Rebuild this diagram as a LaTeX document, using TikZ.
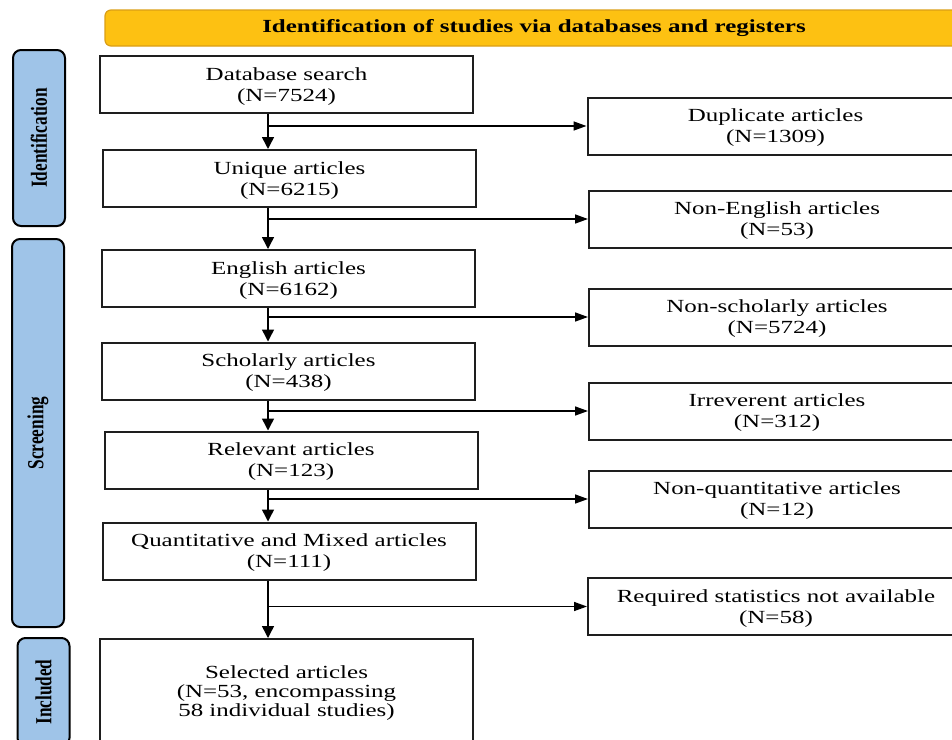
\documentclass[tikz,border=0pt]{standalone}
\usepackage{fontspec}
\setmainfont{Liberation Serif}[FakeStretch=1.35]
\newfontfamily\sidefont{Liberation Serif}[FakeStretch=0.75]
\usepackage{xcolor}
\usepackage{tikz}
\usetikzlibrary{arrows.meta}
\definecolor{bannergold}{RGB}{253,193,18}
\definecolor{bannerline}{RGB}{218,158,22}
\definecolor{phaseblue}{RGB}{159,196,232}
\definecolor{boxline}{RGB}{30,30,30}

\begin{document}
\begin{tikzpicture}[x=0.5pt, y=-0.5pt,
  box/.style={draw=boxline, line width=1pt, fill=white, align=center, inner sep=0pt, text depth=-2pt,
              minimum width=186.5pt, minimum height=28.5pt, font=\fontsize{9.25}{10.5}\selectfont},
  side/.style={box, minimum width=188pt},
  phase/.style={draw=black, line width=1pt, fill=phaseblue, rounded corners=4pt, rotate=90,
                minimum height=26pt, inner sep=0pt, font=\sidefont\fontsize{11.5}{12}\selectfont\bfseries},
  banner/.style={draw=bannerline, line width=0.6pt, fill=bannergold, rounded corners=3pt,
                 minimum width=429pt, minimum height=18pt, inner sep=0pt,
                 font=\fontsize{9.25}{10.5}\selectfont\bfseries},
  flow/.style={line width=0.75pt, -{Triangle[length=6pt, width=6pt]}},
  branch/.style={line width=0.75pt, -{Triangle[length=6.5pt, width=4.5pt]}}]

\clip (0,0) rectangle (952,739);

\node[banner] (head) at (534,28) {Identification of studies via databases and registers};

\node[phase, minimum width=88pt] (idph) at (39,138) {Identification};
\node[phase, minimum width=194pt] (scph) at (38,433) {Screening};
\node[phase, minimum width=54pt] (inph) at (43.5,692) {Included};

\node[box] (db) at (286.5,84.5) {Database search\\(N=7524)};
\node[box] (uq) at (289.5,178.5) {Unique articles\\(N=6215)};
\node[box] (en) at (288.5,278.5) {English articles\\(N=6162)};
\node[box] (sc) at (288.5,371) {Scholarly articles\\(N=438)};
\node[box] (rel) at (291,460) {Relevant articles\\(N=123)};
\node[box] (qm) at (289,551) {Quantitative and Mixed articles\\(N=111)};
\node[box, minimum height=53pt, text depth=1pt, font=\fontsize{9.25}{9.6}\selectfont] (sel) at (286.5,692)
  {Selected articles\\(N=53, encompassing\\58 individual studies)};

\node[side] (dup) at (775.5,126) {Duplicate articles\\(N=1309)};
\node[side] (nonen) at (777,219) {Non-English articles\\(N=53)};
\node[side] (nonsch) at (777,317) {Non-scholarly articles\\(N=5724)};
\node[side] (irr) at (777,411) {Irreverent articles\\(N=312)};
\node[side] (nonq) at (777,499) {Non-quantitative articles\\(N=12)};
\node[side] (req) at (776,606.5) {Required statistics not available\\(N=58)};

\coordinate (spine) at (268,0);

\draw[flow] (db.south -| spine) -- (uq.north -| spine);
\draw[flow] (uq.south -| spine) -- (en.north -| spine);
\draw[flow] (en.south -| spine) -- (sc.north -| spine);
\draw[flow] (sc.south -| spine) -- (rel.north -| spine);
\draw[flow] (rel.south -| spine) -- (qm.north -| spine);
\draw[flow] (qm.south -| spine) -- (sel.north -| spine);

\draw[branch] (spine |- dup.west) -- (dup.west);
\draw[branch] (spine |- nonen.west) -- (nonen.west);
\draw[branch] (spine |- nonsch.west) -- (nonsch.west);
\draw[branch] (spine |- irr.west) -- (irr.west);
\draw[branch] (spine |- nonq.west) -- (nonq.west);
\draw[branch] (spine |- req.west) -- (req.west);

\end{tikzpicture}
\end{document}
